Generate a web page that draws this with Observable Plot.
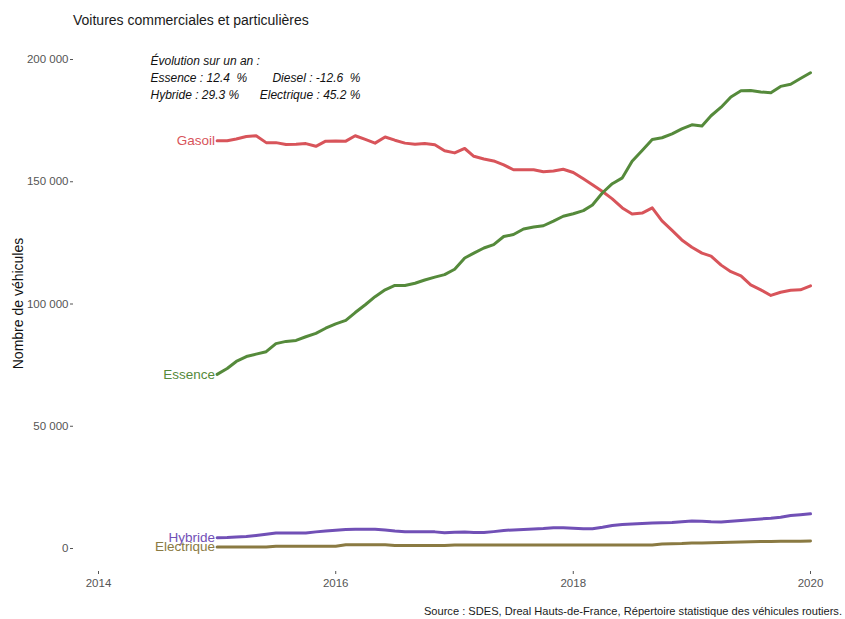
<!DOCTYPE html>
<html><head><meta charset="utf-8">
<script src="https://cdn.jsdelivr.net/npm/d3@7"></script>
<script src="https://cdn.jsdelivr.net/npm/@observablehq/plot@0.6"></script>
<style>
body{margin:0;background:#fff;font-family:"Liberation Sans",Arial,sans-serif;width:845px;height:619px;overflow:hidden}
#title{height:44px;box-sizing:border-box;padding:12px 0 0 73px;font-size:14px;line-height:16px;color:#1a1a1a}
#caption{height:19px;box-sizing:border-box;padding-top:3px;text-align:right;padding-right:3px;font-size:11.1px;line-height:16px;color:#1a1a1a}
</style></head>
<body>
<div id="title">Voitures commerciales et particulières</div>
<div id="chart"></div>
<div id="caption">Source : SDES, Dreal Hauts-de-France, Répertoire statistique des véhicules routiers.</div>
<script>
// Monthly stock of vehicles, Jan 2015 -> Jan 2020 (thousands)
const firstMonth = "2015-01-01";
const seriesNames = ["Gasoil", "Essence", "Hybride", "Electrique"];
const seriesColors = ["#d8545a", "#558a3b", "#7150b6", "#8a7a42"];
const gasoil = [166.8,166.8,167.5,168.5,168.8,166.0,166.0,165.2,165.3,165.6,
  164.5,166.6,166.7,166.6,168.8,167.3,165.8,168.3,167.0,165.8,
  165.3,165.6,165.1,162.7,161.8,163.6,160.4,159.3,158.5,156.9,
  154.9,154.9,154.9,154.1,154.4,155.1,153.8,151.2,148.8,146.0,
  143.0,139.3,136.8,137.2,139.3,134.0,130.1,126.2,123.2,120.8,
  119.6,115.9,113.2,111.5,107.8,105.8,103.5,104.8,105.6,105.8,107.4];
const essence = [71.2,73.6,76.5,78.5,79.5,80.5,83.8,84.7,85.1,86.6,
  88.0,90.1,91.9,93.3,96.5,99.7,103.0,105.8,107.6,107.6,
  108.5,109.8,111.0,112.0,114.2,118.8,120.8,122.9,124.3,127.6,
  128.4,130.7,131.5,132.0,133.9,135.9,136.9,138.2,140.5,145.5,
  149.2,151.6,158.4,162.8,167.3,168.0,169.6,171.6,173.3,172.8,
  177.0,180.5,184.7,187.2,187.3,186.7,186.4,189.0,189.9,192.2,194.6];
const hybride = [4.4,4.5,4.7,4.9,5.3,5.8,6.3,6.3,6.3,6.3,
  6.8,7.2,7.5,7.8,7.9,7.9,7.9,7.6,7.2,6.9,
  6.8,6.8,6.8,6.4,6.6,6.7,6.5,6.5,6.9,7.4,
  7.6,7.8,8.0,8.2,8.5,8.5,8.3,8.1,8.1,8.7,
  9.4,9.8,10.0,10.2,10.4,10.5,10.6,10.9,11.2,11.1,
  10.9,10.8,11.1,11.5,11.8,12.1,12.4,12.8,13.5,13.8,14.2];
const electrique = [0.6,0.6,0.6,0.6,0.6,0.6,0.9,0.9,0.9,0.9,
  0.9,0.9,0.9,1.5,1.5,1.5,1.5,1.5,1.2,1.2,
  1.2,1.2,1.2,1.2,1.4,1.4,1.4,1.4,1.4,1.4,
  1.4,1.4,1.4,1.4,1.4,1.4,1.4,1.4,1.4,1.4,
  1.4,1.4,1.4,1.4,1.4,1.8,1.9,2.0,2.2,2.3,
  2.4,2.5,2.6,2.7,2.8,2.9,2.9,3.0,3.0,3.0,3.1];
const yTicks = [0, 50000, 100000, 150000, 200000];
const xTickYears = ["2014", "2016", "2018", "2020"];
const xDomainYears = ["2014", "2020"];
const yLabel = "Nombre de véhicules";
const noteLines = [
  ["Évolution sur un an :", ""],
  ["Essence : 12.4\u00a0\u00a0%", "Diesel : -12.6\u00a0\u00a0%"],
  ["Hybride : 29.3 %", "Electrique : 45.2 %"]
];

const valuesBySeries = [gasoil, essence, hybride, electrique];
const start = new Date(firstMonth + "T00:00:00Z");
const table = [];
seriesNames.forEach((name, si) => {
  valuesBySeries[si].forEach((v, i) => {
    table.push({series: name, date: d3.utcMonth.offset(start, i), value: v * 1000});
  });
});
const parseYear = y => new Date(y + "-01-01T00:00:00Z");
const fmt = d => d3.format(",")(d).replace(/,/g, " ");

const noteMarks = [];
noteLines.forEach((pair, i) => {
  noteMarks.push(Plot.text([pair[0]], {frameAnchor: "top-left", dx: 77, dy: 12 + 17 * i, lineAnchor: "middle",
    textAnchor: "start", fontStyle: "italic", fontSize: 12, fill: "#111"}));
  if (pair[1]) noteMarks.push(Plot.text([pair[1]], {frameAnchor: "top-left", dx: 287, dy: 12 + 17 * i, lineAnchor: "middle",
    textAnchor: "end", fontStyle: "italic", fontSize: 12, fill: "#111"}));
});

const chart = Plot.plot({
  width: 845, height: 556,
  marginLeft: 73, marginRight: 10, marginTop: 5, marginBottom: 29,
  style: {fontFamily: "'Liberation Sans', Arial, sans-serif", fontSize: "11.5px", background: "white", overflow: "visible"},
  x: {type: "utc", domain: xDomainYears.map(parseYear), range: [98, 810]},
  y: {domain: [0, 200000], range: [504, 15]},
  color: {domain: seriesNames, range: seriesColors},
  marks: [
    Plot.axisY({ticks: yTicks, tickFormat: fmt, tickSize: 3, tickPadding: 2, color: "#555", label: null}),
    Plot.axisX({ticks: xTickYears.map(parseYear), tickFormat: d3.utcFormat("%Y"), tickSize: 3, tickPadding: 4, color: "#555", label: null}),
    Plot.lineY(table, {x: "date", y: "value", z: "series", stroke: "series", strokeWidth: 3, curve: "linear"}),
    Plot.text(table, Plot.selectFirst({x: "date", y: "value", z: "series", text: "series", fill: "series",
      textAnchor: "end", dx: -2, fontSize: 13.5})),
    Plot.text([yLabel], {frameAnchor: "left", textAnchor: "middle", lineAnchor: "middle", rotate: -90, dx: -55, dy: -7, fontSize: 14, fill: "#111"}),
    ...noteMarks
  ]
});
document.getElementById("chart").appendChild(chart);
</script>
</body></html>
